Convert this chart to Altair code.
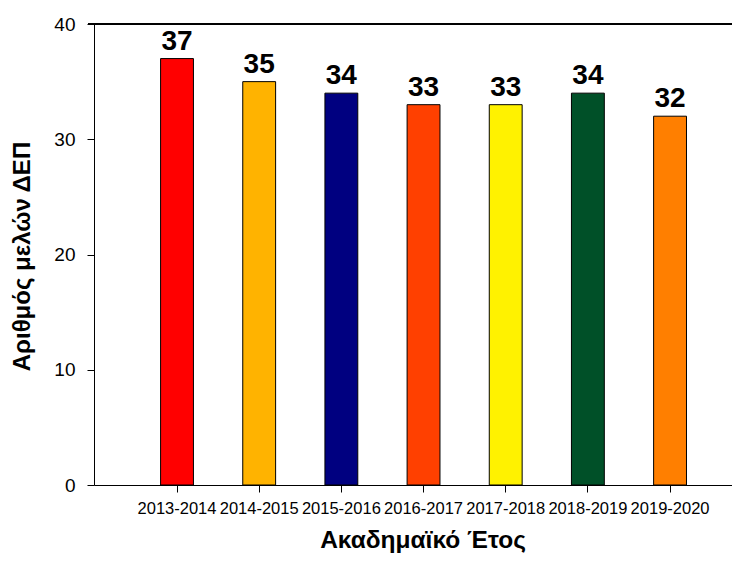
import altair as alt
import pandas as pd

years = ["2013-2014", "2014-2015", "2015-2016", "2016-2017", "2017-2018", "2018-2019", "2019-2020"]
members = [37, 35, 34, 33, 33, 34, 32]
colors = ["#FF0000", "#FFB300", "#000080", "#FF4000", "#FFF200", "#005028", "#FF7F00"]
y_ticks = [0, 10, 20, 30, 40]

df = pd.DataFrame({"year": years, "members": members, "color": colors})

W = 638
H = 461
FONT = "Liberation Sans"

x_enc = alt.X(
    "year:N",
    sort=years,
    scale=alt.Scale(paddingInner=0.6, paddingOuter=0.682, align=0.594),
    axis=alt.Axis(
        title="Ακαδημαϊκό Έτος",
        labelAngle=0,
        labelFontSize=16.5,
        labelFont=FONT,
        labelColor="black",
        labelPadding=8,
        tickSize=7,
        tickColor="black",
        domainColor="black",
        titleFont=FONT,
        titleFontSize=24.5,
        titleFontWeight="bold",
        titleColor="black",
        titleX=328.5,
        titleY=62,
        titleBaseline="alphabetic",
    ),
)

y_enc = alt.Y(
    "members:Q",
    scale=alt.Scale(domain=[0, 40], nice=False),
    axis=alt.Axis(
        title="Αριθμός μελών ΔΕΠ",
        values=y_ticks,
        grid=False,
        labelFontSize=19,
        labelFont=FONT,
        labelColor="black",
        labelPadding=12,
        tickSize=7,
        tickColor="black",
        domainColor="black",
        titleFont=FONT,
        titleFontSize=24,
        titleFontWeight="bold",
        titleColor="black",
        titleX=-65,
        titleY=232,
        titleAngle=-90,
        titleBaseline="alphabetic",
        titleAlign="center",
    ),
)

bars = alt.Chart(df).mark_bar(stroke="black", strokeWidth=1).encode(
    x=x_enc,
    y=y_enc,
    color=alt.Color("color:N", scale=None),
)

labels = alt.Chart(df).mark_text(
    baseline="alphabetic", dy=-9, fontSize=28, fontWeight="bold", font=FONT, color="black"
).encode(
    x=alt.X("year:N", sort=years),
    y=alt.Y("members:Q"),
    text=alt.Text("members:Q"),
)

top = alt.Chart(df).mark_rule(color="black", strokeWidth=1).encode(
    x=alt.value(-6), x2=alt.value(W), y=alt.value(0)
)

chart = alt.layer(bars, labels, top).properties(
    width=W,
    height=H,
    autosize=alt.AutoSizeParams(type="none"),
    padding={"left": 86, "top": 16, "right": 0, "bottom": 68},
).configure_view(stroke=None).configure(background="white")

chart.save("out.html", embed_options={"renderer": "svg", "actions": False})
